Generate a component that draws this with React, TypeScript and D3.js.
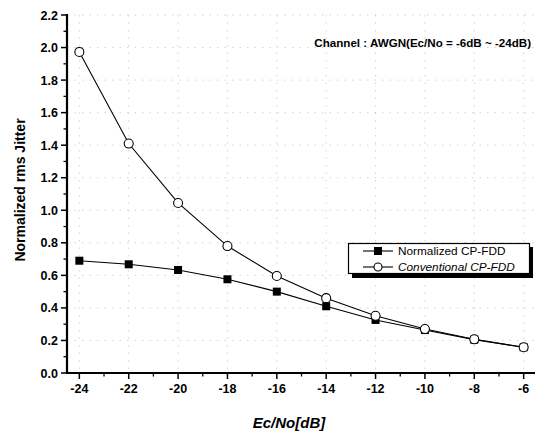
import React from "react";
import * as d3 from "d3";

const ecno = [-24, -22, -20, -18, -16, -14, -12, -10, -8, -6];
const normalizedCpFdd = [0.69, 0.668, 0.633, 0.576, 0.5, 0.41, 0.326, 0.264, 0.205, 0.158];
const conventionalCpFdd = [1.973, 1.41, 1.045, 0.78, 0.596, 0.46, 0.352, 0.27, 0.207, 0.158];
const yTicks = [0, 0.2, 0.4, 0.6, 0.8, 1.0, 1.2, 1.4, 1.6, 1.8, 2.0, 2.2];
const xTicks = [-24, -22, -20, -18, -16, -14, -12, -10, -8, -6];

const W = 535;
const H = 435;
const FONT = "'Liberation Sans', Arial, sans-serif";

export default function App() {
  const x = d3.scaleLinear().domain([-24.5, -5.5]).range([67, 536]);
  const y = d3.scaleLinear().domain([0, 2.2]).range([373, 15]);

  const line = d3
    .line<[number, number]>()
    .x((d) => x(d[0]))
    .y((d) => y(d[1]));

  const normPts = ecno.map((e, i) => [e, normalizedCpFdd[i]] as [number, number]);
  const convPts = ecno.map((e, i) => [e, conventionalCpFdd[i]] as [number, number]);

  const yMinor = d3.range(0.1, 2.2, 0.2);
  const xMinor = d3.range(-23, -5, 2);

  const [x0] = x.range();
  const y0 = y(0);

  return (
    <svg
      width={W}
      height={H}
      style={{ position: "absolute", left: 0, top: 0, background: "#fff" }}
      fontFamily={FONT}
    >
      <rect width={W} height={H} fill="#fff" />

      {/* faint dotted grid */}
      <g stroke="#c8c8c8" strokeWidth={0.8} strokeDasharray="1.5,6">
        {yTicks.slice(1).map((t) => (
          <line key={"gy" + t} x1={x0} x2={W} y1={y(t)} y2={y(t)} />
        ))}
        {xTicks.map((t) => (
          <line key={"gx" + t} x1={x(t)} x2={x(t)} y1={y(2.2)} y2={y0} />
        ))}
      </g>

      {/* annotation */}
      <text x={531} y={47} textAnchor="end" fontSize={11.6} fontWeight="bold" fill="#000">
        Channel : AWGN(Ec/No = -6dB ~ -24dB)
      </text>

      {/* series */}
      <path d={line(convPts) || ""} fill="none" stroke="#000" strokeWidth={1.1} />
      <path d={line(normPts) || ""} fill="none" stroke="#000" strokeWidth={1.1} />
      {normPts.map((p, i) => (
        <rect key={"n" + i} x={x(p[0]) - 4} y={y(p[1]) - 4} width={8} height={8} fill="#000" />
      ))}
      {convPts.map((p, i) => (
        <circle key={"c" + i} cx={x(p[0])} cy={y(p[1])} r={4.5} fill="#fff" stroke="#000" strokeWidth={1.1} />
      ))}

      {/* y axis */}
      <line x1={x0} x2={x0} y1={y(2.2) - 1} y2={y0 + 1} stroke="#000" strokeWidth={2.2} />
      {yTicks.map((t) => (
        <g key={"yt" + t}>
          <line x1={x0 - 6} x2={x0} y1={y(t)} y2={y(t)} stroke="#000" strokeWidth={1.5} />
          <text x={x0 - 9} y={y(t) + 4.5} textAnchor="end" fontSize={12.5} fontWeight="bold">
            {t.toFixed(1)}
          </text>
        </g>
      ))}
      {yMinor.map((t) => (
        <line key={"ym" + t} x1={x0 - 3.5} x2={x0} y1={y(t)} y2={y(t)} stroke="#000" strokeWidth={1.3} />
      ))}

      {/* x axis */}
      <line x1={x0 - 1} x2={W} y1={y0} y2={y0} stroke="#000" strokeWidth={2.2} />
      {xTicks.map((t) => (
        <g key={"xt" + t}>
          <line x1={x(t)} x2={x(t)} y1={y0} y2={y0 + 6} stroke="#000" strokeWidth={1.5} />
          <text x={x(t)} y={y0 + 20} textAnchor="middle" fontSize={12.5} fontWeight="bold">
            {t}
          </text>
        </g>
      ))}
      {xMinor.map((t) => (
        <line key={"xm" + t} x1={x(t)} x2={x(t)} y1={y0} y2={y0 + 3.5} stroke="#000" strokeWidth={1.3} />
      ))}

      {/* axis titles */}
      <text
        x={289}
        y={428}
        textAnchor="middle"
        fontSize={15}
        fontWeight="bold"
        fontStyle="italic"
      >
        Ec/No[dB]
      </text>
      <text
        transform={`translate(25, ${190}) rotate(-90)`}
        textAnchor="middle"
        fontSize={14}
        fontWeight="bold"
      >
        Normalized rms Jitter
      </text>

      {/* legend */}
      <g>
        <rect x={352} y={247} width={181} height={31} fill="#000" />
        <rect x={348.5} y={243.5} width={181} height={30} fill="#fff" stroke="#000" strokeWidth={1.2} />
        <line x1={363} x2={393} y1={251} y2={251} stroke="#000" strokeWidth={1.1} />
        <rect x={374} y={247} width={8} height={8} fill="#000" />
        <text x={398} y={255} fontSize={11.8}>Normalized CP-FDD</text>
        <line x1={363} x2={393} y1={267} y2={267} stroke="#000" strokeWidth={1.1} />
        <circle cx={378} cy={267} r={4} fill="#fff" stroke="#000" strokeWidth={1.1} />
        <text x={398} y={271} fontSize={11.8} fontStyle="italic">Conventional CP-FDD</text>
      </g>
    </svg>
  );
}
